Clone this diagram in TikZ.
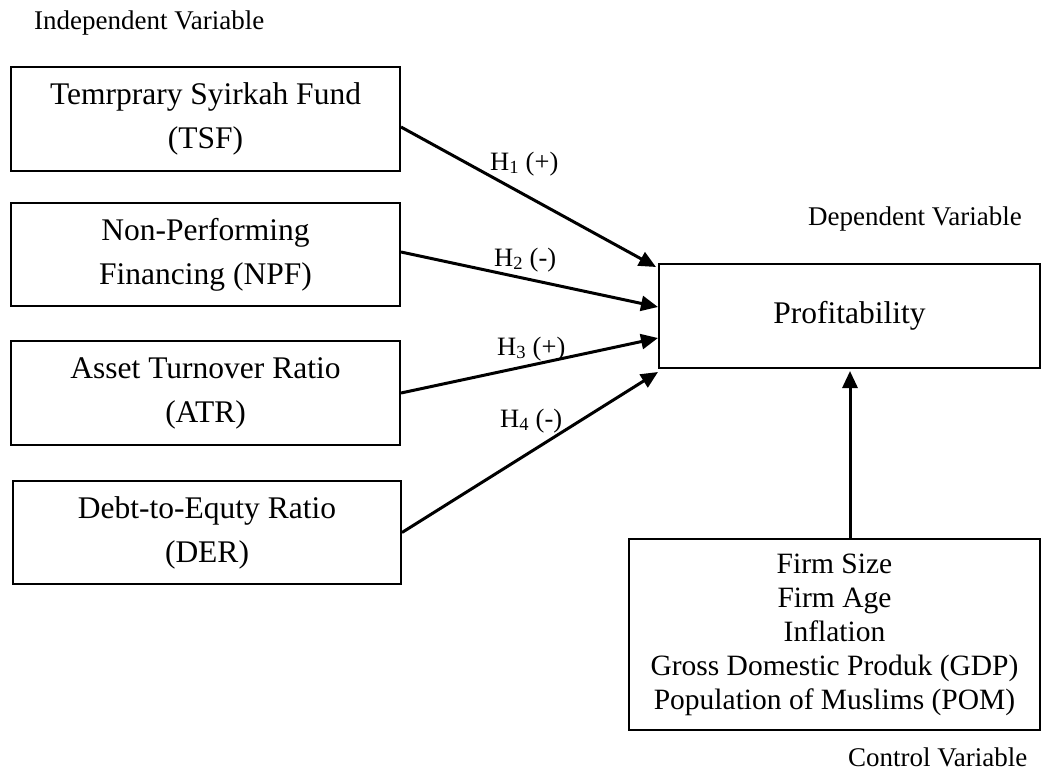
\documentclass[tikz,border=0pt]{standalone}
\usepackage{fontspec}
\setmainfont{Liberation Serif}
\usetikzlibrary{arrows.meta}
\tikzset{
  box/.style={draw, line width=2pt, inner sep=0pt, align=center, font=\fontsize{31.5}{44}\selectfont},
  cbox/.style={draw, line width=2pt, inner sep=0pt, align=center, font=\fontsize{29.5}{34}\selectfont},
  lab/.style={inner sep=0pt, font=\fontsize{27}{30}\selectfont},
  hyp/.style={inner sep=0pt, font=\fontsize{26.5}{30}\selectfont, anchor=base west},
  conn/.style={line width=3pt, -{Triangle[length=17pt,width=15pt]}}
}
\begin{document}
\begin{tikzpicture}[x=1pt,y=-1pt]
\useasboundingbox (0,0) rectangle (1042,776);
\node[box, minimum width=389pt, minimum height=104pt] (tsf) at (205.5,119) {Temrprary Syirkah Fund\\(TSF)};
\node[box, minimum width=389pt, minimum height=103pt] (npf) at (205.5,254.5) {Non-Performing\\Financing (NPF)};
\node[box, minimum width=389pt, minimum height=104pt] (atr) at (205.5,393) {Asset Turnover Ratio\\(ATR)};
\node[box, minimum width=388pt, minimum height=103pt] (der) at (207,532.5) {Debt-to-Equty Ratio\\(DER)};
\node[box, minimum width=381pt, minimum height=104pt] (prof) at (849.5,316) {Profitability};
\node[cbox, minimum width=411pt, minimum height=191pt] (ctrl) at (834.5,634.5) {Firm Size\\Firm Age\\Inflation\\Gross Domestic Produk (GDP)\\Population of Muslims (POM)};

\node[lab, anchor=base west] (iv) at (34,30) {Independent Variable};
\node[lab, anchor=base west] (dv) at (808,225) {Dependent Variable};
\node[lab, anchor=base west] (cv) at (848,766) {Control Variable};

\coordinate (t1) at (656,267);
\coordinate (t2) at (658,307);
\coordinate (t3) at (658,338);
\coordinate (t4) at (658,372);
\coordinate (t5) at (850,371);

\draw[conn] ([yshift=-8pt]tsf.east) -- (t1);
\draw[conn] ([yshift=2.5pt]npf.east) -- (t2);
\draw[conn] (atr.east) -- (t3);
\draw[conn] (der.east) -- (t4);
\draw[conn] (ctrl.north -| t5) -- (t5);

\node[hyp] (h1) at (490,170) {H\textsubscript{1} (+)};
\node[hyp] (h2) at (494,266) {H\textsubscript{2} (-)};
\node[hyp] (h3) at (497,355) {H\textsubscript{3} (+)};
\node[hyp] (h4) at (500,427) {H\textsubscript{4} (-)};
\end{tikzpicture}
\end{document}
